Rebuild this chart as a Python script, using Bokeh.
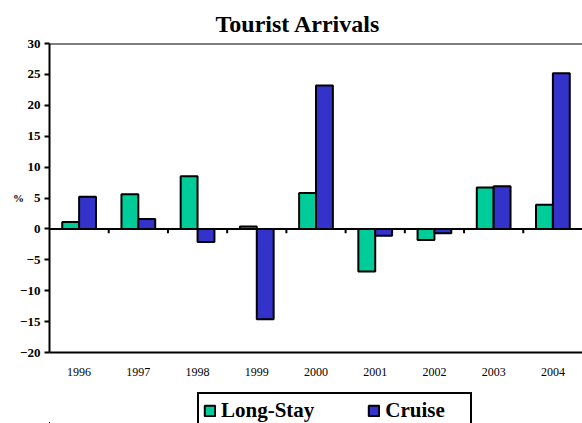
from bokeh.plotting import figure
from bokeh.layouts import column
from bokeh.models import (ColumnDataSource, FixedTicker, Span, Legend, LegendItem,
                          Range1d)
from bokeh.embed import file_html
from bokeh.resources import INLINE

# Annual change in tourist arrivals (%)
years = ["1996", "1997", "1998", "1999", "2000", "2001", "2002", "2003", "2004"]
long_stay = [1.1, 5.6, 8.5, 0.4, 5.8, -6.9, -1.8, 6.7, 3.9]
cruise = [5.2, 1.6, -2.1, -14.6, 23.2, -1.1, -0.7, 6.9, 25.2]
series = ["Long-Stay", "Cruise"]
y_ticks = [-20, -15, -10, -5, 0, 5, 10, 15, 20, 25, 30]

GREEN = "#00CC99"
BLUE = "#3333CC"
SERIF = "Liberation Serif"

n = len(years)
centers = [i + 0.5 for i in range(n)]
bar_w = 0.285

src = ColumnDataSource(dict(
    x_ls=[c - bar_w / 2 for c in centers],
    x_cr=[c + bar_w / 2 for c in centers],
    ls=long_stay,
    cr=cruise,
))

p = figure(width=582, height=390,
           x_range=Range1d(0, n), y_range=Range1d(y_ticks[0], y_ticks[-1]),
           output_backend="svg", toolbar_location=None,
           min_border_left=49, min_border_right=0,
           min_border_top=43, min_border_bottom=38)
p.outline_line_color = None
p.grid.visible = False

p.title.text = "Tourist Arrivals"
p.title.align = "left"
p.title.offset = 166
p.title.text_color = "black"
p.title.text_font = SERIF
p.title.text_font_size = "24px"
p.title.text_font_style = "bold"
p.title.standoff = 14

bar_style = dict(line_color="black", line_width=2)
r_ls = p.vbar(x="x_ls", top="ls", bottom=0, width=bar_w, source=src,
              fill_color=GREEN, **bar_style)
r_cr = p.vbar(x="x_cr", top="cr", bottom=0, width=bar_w, source=src,
              fill_color=BLUE, **bar_style)

# zero line with tick marks between year groups
p.add_layout(Span(location=0, dimension="width", line_color="black", line_width=2))
bounds = list(range(1, n))
p.segment(x0=bounds, x1=bounds, y0=[0] * len(bounds), y1=[-0.7] * len(bounds),
          line_color="black", line_width=2)

# top border of the plot area
p.add_layout(Span(location=y_ticks[-1], dimension="width", line_color="black", line_width=2))

# y axis
ya = p.yaxis[0]
ya.ticker = FixedTicker(ticks=y_ticks)
ya.minor_tick_line_color = None
ya.axis_line_color = "black"
ya.axis_line_width = 2
ya.major_tick_line_color = "black"
ya.major_tick_line_width = 2
ya.major_tick_out = 5
ya.major_tick_in = 0
ya.major_label_text_color = "black"
ya.major_label_text_font = SERIF
ya.major_label_text_font_size = "13px"
ya.major_label_text_font_style = "bold"
ya.major_label_standoff = 4
ya.axis_label = "%"
ya.axis_label_orientation = "horizontal"
ya.axis_label_text_color = "black"
ya.axis_label_text_font = SERIF
ya.axis_label_text_font_size = "11px"
ya.axis_label_text_font_style = "bold"
ya.axis_label_standoff = -7

# x axis: year labels centred under each group
xa = p.xaxis[0]
xa.ticker = FixedTicker(ticks=centers)
xa.major_label_overrides = {c: y for c, y in zip(centers, years)}
xa.major_tick_line_color = None
xa.minor_tick_line_color = None
xa.axis_line_color = "black"
xa.axis_line_width = 2
xa.major_label_text_color = "black"
xa.major_label_text_font = SERIF
xa.major_label_text_font_size = "12px"
xa.major_label_standoff = 9

# legend strip below the chart; its key renderers share the bar data but
# the strip's ranges lie far away from every bar, so none shows there
leg = figure(width=582, height=33,
             x_range=Range1d(1000, 1001), y_range=Range1d(1000, 1001),
             x_axis_type=None, y_axis_type=None,
             output_backend="svg", toolbar_location=None,
             min_border_left=49, min_border_right=0,
             min_border_top=0, min_border_bottom=0)
leg.outline_line_color = None
leg.grid.visible = False
k_ls = leg.vbar(x="x_ls", top="ls", bottom=0, width=bar_w, source=src,
                fill_color=GREEN, **bar_style)
k_cr = leg.vbar(x="x_cr", top="cr", bottom=0, width=bar_w, source=src,
                fill_color=BLUE, **bar_style)

legend = Legend(items=[LegendItem(label=series[0], renderers=[k_ls]),
                       LegendItem(label=series[1], renderers=[k_cr])],
                orientation="horizontal", location=(148, -6),
                border_line_color="black", border_line_width=2, border_line_alpha=1,
                label_text_color="black",
                label_text_font=SERIF, label_text_font_size="21px",
                label_text_font_style="bold",
                glyph_width=13, glyph_height=13, label_standoff=5,
                label_width=81, spacing=53, padding=4, margin=0,
                background_fill_alpha=1)
leg.add_layout(legend)

layout = column(p, leg, spacing=0)
open("out.html", "w").write(file_html(layout, INLINE))
